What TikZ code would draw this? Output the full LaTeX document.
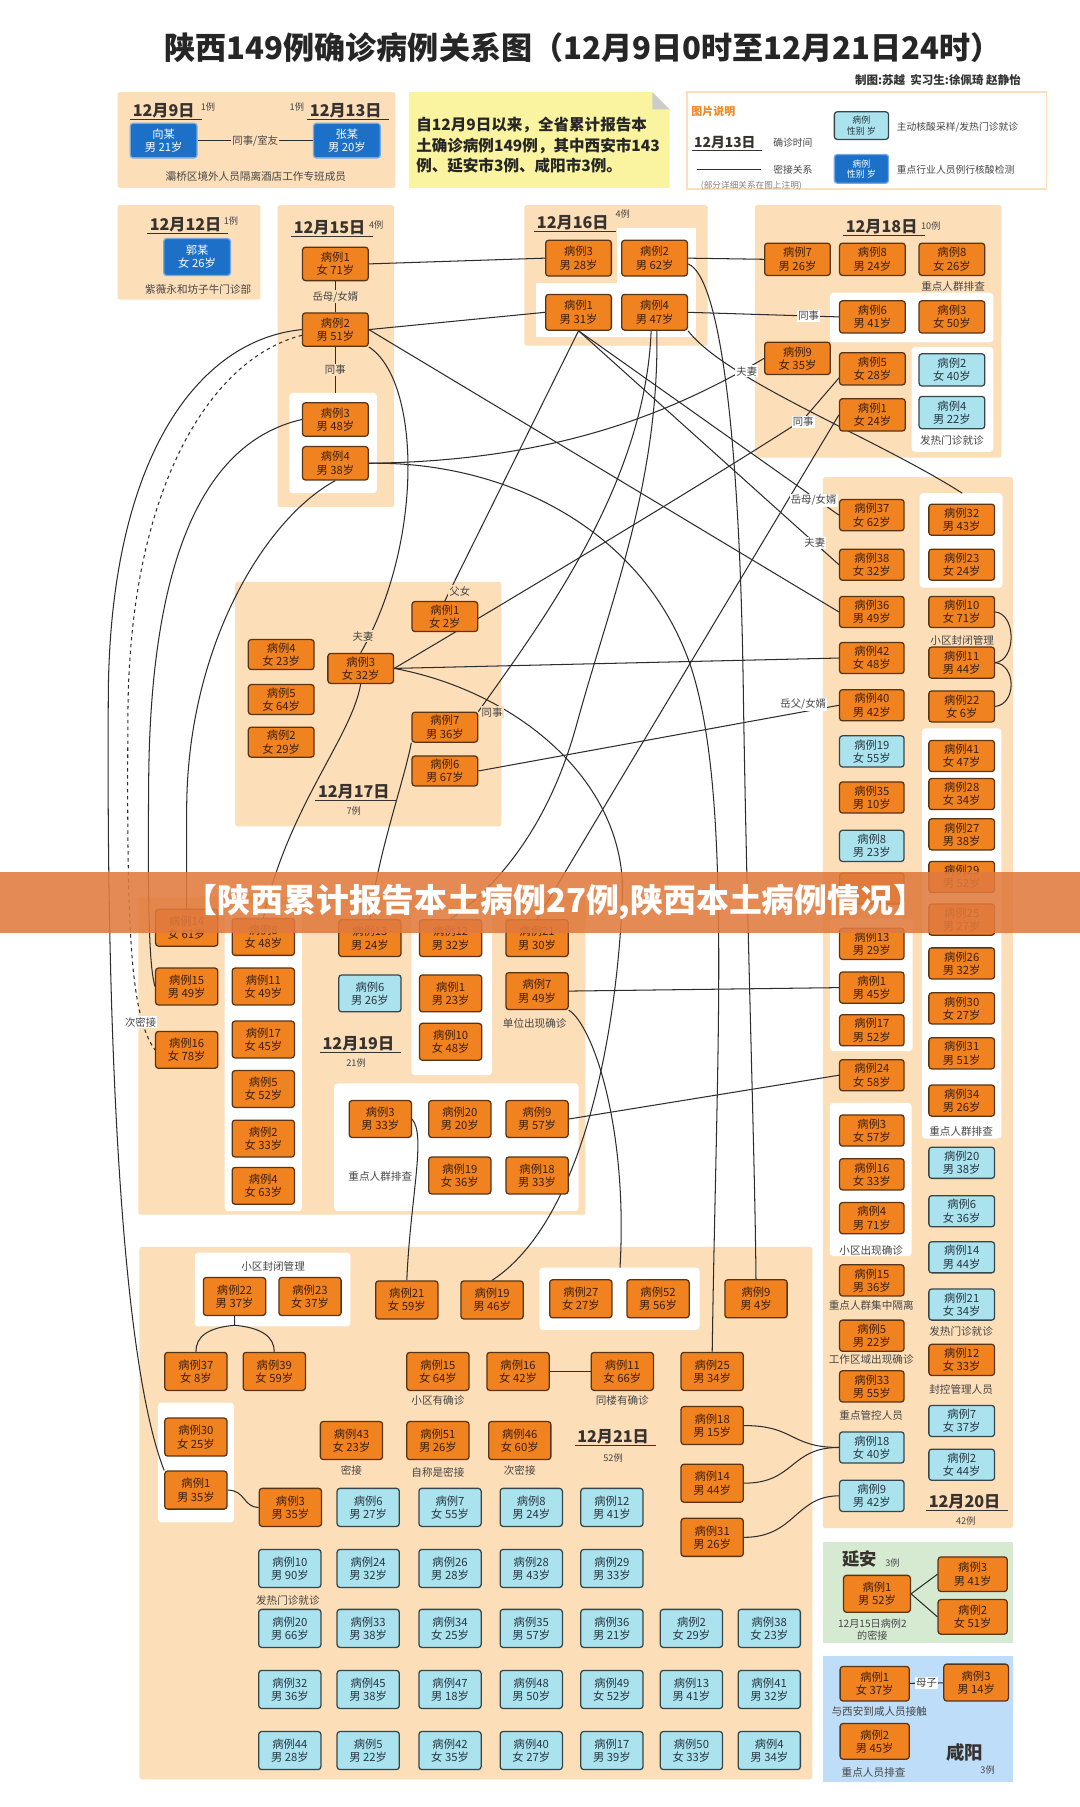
\documentclass[tikz,border=0pt]{standalone}
\usepackage{fontspec}
\setmainfont{Noto Sans CJK SC}
\usetikzlibrary{calc}
\pgfdeclarelayer{bg}\pgfdeclarelayer{lines}\pgfdeclarelayer{top}
\pgfsetlayers{bg,lines,main,top}
\definecolor{peach}{RGB}{252,222,184}
\definecolor{boxor}{RGB}{240,130,32}
\definecolor{boxbd}{RGB}{88,52,22}
\definecolor{boxtx}{RGB}{60,30,10}
\definecolor{ltblue}{RGB}{170,226,238}
\definecolor{ltbd}{RGB}{55,70,75}
\definecolor{ltx}{RGB}{40,55,65}
\definecolor{bbox}{RGB}{28,112,200}
\definecolor{bbd}{RGB}{120,170,225}
\definecolor{note}{RGB}{250,244,160}
\definecolor{grn}{RGB}{214,234,210}
\definecolor{xyb}{RGB}{190,221,248}
\definecolor{lnc}{RGB}{45,45,45}
\definecolor{lbc}{RGB}{70,70,70}
\definecolor{hdc}{RGB}{55,50,45}
\definecolor{legor}{RGB}{240,138,40}
\definecolor{bnr}{RGB}{224,122,62}
\tikzset{
 ob/.style={draw=boxbd, fill=boxor, rounded corners=2.5pt, line width=1.1pt, minimum width=56pt, minimum height=27pt, inner sep=0pt, align=center, font=\fontsize{9.8}{11.5}\selectfont, text=boxtx},
 lb/.style={fill=ltblue, draw=ltbd, text=ltx},
 bb/.style={fill=bbox, draw=bbd, text=white},
 ln/.style={draw=lnc, line width=0.9pt},
 lbl/.style={font=\fontsize{9}{9.5}\selectfont, text=lbc, inner sep=1pt},
 captx/.style={font=\fontsize{9.2}{10.5}\selectfont, text=lbc, inner sep=0pt},
 legtx/.style={font=\fontsize{8.5}{9}\selectfont, text=lbc, inner sep=0pt},
 hdg/.style={font=\fontsize{14}{14}\selectfont\bfseries, text=hdc, inner sep=1pt},
 cnt/.style={font=\fontsize{8}{8}\selectfont, text=lbc, inner sep=0pt},
}
\newcommand\casebox[5][]{\node[ob,#1] (#2) at (#3) {病例#4\\#5};}
\newcommand\hdgu[4]{\node[hdg] (#1) at (#2,#3) {#4};
  \draw[line width=1pt, draw=hdc] ([xshift=-1pt]#1.south west) -- ([xshift=5pt]#1.south east);}
\begin{document}
\begin{tikzpicture}[x=1pt,y=-1pt]
\useasboundingbox (0,0) rectangle (937,1568);
\begin{pgfonlayer}{bg}
\fill[white] (0,0) rectangle (937,1568);
\fill[peach,rounded corners=2pt] (102,80) rectangle (343,163);
\fill[note] (355,80) -- (566,80) -- (581,95) -- (581,163) -- (355,163) -- cycle;
\fill[gray!40] (566,80) -- (581,95) -- (566,95) -- cycle;
\filldraw[fill=white, draw=peach, line width=1.5pt] (596,80) rectangle (908,164);
\fill[peach,rounded corners=2pt] (102,178) rectangle (226,260);
\fill[peach,rounded corners=2pt] (241,178) rectangle (342,440);
\fill[white,rounded corners=3pt] (251,341) rectangle (327,428);
\fill[peach,rounded corners=2pt] (455,178) rectangle (614,300);
\fill[white] (535,198) rectangle (604,248);
\fill[white] (465,246) rectangle (604,292);
\fill[peach,rounded corners=2pt] (655,178) rectangle (869,397);
\fill[white,rounded corners=3pt] (720,254) rectangle (862,297);
\fill[white,rounded corners=3pt] (791,301) rectangle (862,392);
\fill[peach,rounded corners=2pt] (204,505) rectangle (435,717);
\fill[peach,rounded corners=2pt] (714,414) rectangle (879,1326);
\fill[white,rounded corners=3pt] (798,428) rectangle (870,510);
\fill[white,rounded corners=3pt] (800,632) rectangle (869,988);
\fill[white,rounded corners=3pt] (720,797) rectangle (792,912);
\fill[white,rounded corners=3pt] (720,957) rectangle (791,1090);
\fill[peach,rounded corners=2pt] (120,778) rectangle (508,1054);
\fill[white,rounded corners=3pt] (195,785) rectangle (262,1051);
\fill[white,rounded corners=3pt] (357,790) rectangle (427,933);
\fill[white,rounded corners=3pt] (290,940) rectangle (502,1051);
\fill[peach,rounded corners=2pt] (121,1082) rectangle (705,1544);
\fill[white,rounded corners=3pt] (169,1087) rectangle (304,1151);
\fill[white,rounded corners=3pt] (468,1100) rectangle (607,1154);
\fill[white,rounded corners=3pt] (137,1217) rectangle (203,1321);
\fill[grn] (714,1338) rectangle (879,1426);
\fill[xyb] (714,1437) rectangle (879,1546);
\end{pgfonlayer}

% title
\node[font=\fontsize{27}{30}\selectfont\bfseries, text=black!85] (title) at (506,41.5) {陕西149例确诊病例关系图（12月9日0时至12月21日24时）};
\node[font=\fontsize{10}{11}\selectfont\bfseries, text=black!80, anchor=east, inner sep=0pt] (sub) at (886,69.5) {制图:苏越\ \ 实习生:徐佩琦 赵静怡};

% top-left panel
\hdgu{h9}{142}{96}{12月9日}
\node[cnt,anchor=west] (n9) at (174,93) {1例};
\hdgu{h13}{300}{96}{12月13日}
\node[cnt,anchor=east] (n13) at (264,93) {1例};
\node[ob,bb,minimum width=58pt,minimum height=30pt] (XM) at (142,122) {向某\\男 21岁};
\node[ob,bb,minimum width=58pt,minimum height=30pt] (ZM) at (301,122) {张某\\男 20岁};
\node[captx] (capa) at (222,153) {灞桥区境外人员隔离酒店工作专班成员};

% note
\node[anchor=west, align=left, font=\fontsize{13.5}{17.5}\selectfont\bfseries, text=black!85, inner sep=0pt] (nt) at (361,126) {自12月9日以来，全省累计报告本\\土确诊病例149例，其中西安市143\\例、延安市3例、咸阳市3例。};

% legend
\node[font=\fontsize{9.5}{10}\selectfont\bfseries, text=legor] (lgt) at (619,97) {图片说明};
\node[font=\fontsize{12}{12}\selectfont\bfseries, text=hdc, inner sep=1pt] (lgh) at (629,124) {12月13日};
\draw[line width=1pt, draw=hdc] ([xshift=-1pt]lgh.south west) -- ([xshift=4pt]lgh.south east);
\node[legtx] (lg1) at (688,124) {确诊时间};
\node[legtx] (lg2) at (688,147) {密接关系};
\node[legtx,font=\fontsize{7.5}{8}\selectfont, text=gray] (lg3) at (652,161) {(部分详细关系在图上注明)};
\node[ob,lb,minimum width=47pt,minimum height=24pt,font=\fontsize{7.8}{9}\selectfont] (LB1) at (747.5,109) {病例\\性别 岁};
\node[ob,bb,minimum width=47pt,minimum height=25pt,font=\fontsize{7.8}{9}\selectfont] (LB2) at (747.5,146.5) {病例\\性别 岁};
\node[legtx,anchor=west] (lg4) at (778,110) {主动核酸采样/发热门诊就诊};
\node[legtx,anchor=west] (lg5) at (778,147) {重点行业人员例行核酸检测};

% 12.12
\hdgu{h12}{161}{195}{12月12日}
\node[cnt,anchor=west] (n12) at (194,192) {1例};
\node[ob,bb,minimum width=58pt,minimum height=32pt] (GM) at (171,223) {郭某\\女 26岁};
\node[captx] (capb) at (172,251) {紫薇永和坊子牛门诊部};

% 12.15
\hdgu{h15}{286}{198}{12月15日}
\node[cnt,anchor=west] (n15) at (320,195) {4例};
\begin{scope}[ob/.append style={minimum width=57pt,minimum height=29pt}]
\casebox{A1}{291,229}{1}{女 71岁}
\casebox{A2}{291,286}{2}{男 51岁}
\casebox{A3}{291,364}{3}{男 48岁}
\casebox{A4}{291,402}{4}{男 38岁}
\end{scope}

% 12.16
\hdgu{h16}{497}{193}{12月16日}
\node[cnt,anchor=west] (n16) at (534,186) {4例};
\begin{scope}[ob/.append style={minimum width=57pt,minimum height=31pt}]
\casebox{B3}{502,224}{3}{男 28岁}
\casebox{B2}{568,224}{2}{男 62岁}
\casebox{B1}{502,271}{1}{男 31岁}
\casebox{B4}{568,271}{4}{男 47岁}
\end{scope}

% 12.18
\hdgu{h18}{765}{197}{12月18日}
\node[cnt,anchor=west] (n18) at (799,196) {10例};
\begin{scope}[ob/.append style={minimum width=57pt,minimum height=28pt}]
\casebox{C7}{692,225}{7}{男 26岁}
\casebox{C8a}{757,225}{8}{男 24岁}
\casebox{C8b}{826,225}{8}{女 26岁}
\casebox{C6}{757,275}{6}{男 41岁}
\casebox{C3}{826,275}{3}{女 50岁}
\casebox{C9}{692,311}{9}{女 35岁}
\casebox{C5}{757,320}{5}{女 28岁}
\casebox{C1}{757,360}{1}{女 24岁}
\casebox[lb]{C2}{826,321}{2}{女 40岁}
\casebox[lb]{C4}{826,358}{4}{男 22岁}
\end{scope}
\node[captx] (capc) at (827,249) {重点人群排查};
\node[captx] (capd) at (826,382) {发热门诊就诊};

% 12.17
\begin{scope}[ob/.append style={minimum width=57pt,minimum height=26pt}]
\casebox{D1}{386,535}{1}{女 2岁}
\casebox{D4}{244,568}{4}{女 23岁}
\casebox{D3}{313,580}{3}{女 32岁}
\casebox{D5}{244,607}{5}{女 64岁}
\casebox{D2}{244,644}{2}{女 29岁}
\casebox{D7}{386,631}{7}{男 36岁}
\casebox{D6}{386,669}{6}{男 67岁}
\end{scope}
\hdgu{h17}{307}{687}{12月17日}
\node[cnt] (n17) at (307,704) {7例};

% 12.20
\begin{scope}[ob/.append style={minimum width=56pt,minimum height=27pt}]
\casebox{E37}{756.5,447}{37}{女 62岁}
\casebox{E38}{756.5,490}{38}{女 32岁}
\casebox{E36}{756.5,531}{36}{男 49岁}
\casebox{E42}{756.5,571}{42}{女 48岁}
\casebox{E40}{756.5,612}{40}{男 42岁}
\casebox[lb]{E19}{756.5,652}{19}{女 55岁}
\casebox{E35}{756.5,692}{35}{男 10岁}
\casebox[lb]{E8}{756.5,734}{8}{男 23岁}
\node[ob] (E39) at (756.5,771) {};
\casebox{E13}{756.5,819}{13}{男 29岁}
\casebox{E1}{756.5,857}{1}{男 45岁}
\casebox{E17}{756.5,894}{17}{男 52岁}
\casebox{E24}{756.5,933}{24}{女 58岁}
\casebox{E3}{756.5,981}{3}{女 57岁}
\casebox{E16}{756.5,1019}{16}{女 33岁}
\casebox{E4}{756.5,1057}{4}{男 71岁}
\casebox{E15}{756.5,1111}{15}{男 36岁}
\casebox{E5}{756.5,1159}{5}{男 22岁}
\casebox{E33}{756.5,1203}{33}{男 55岁}
\casebox[lb]{E18}{756.5,1256}{18}{女 40岁}
\casebox[lb]{E9}{756.5,1298}{9}{男 42岁}
\end{scope}
\begin{scope}[ob/.append style={minimum width=57pt,minimum height=27pt}]
\casebox{E32}{834.5,451}{32}{男 43岁}
\casebox{E23}{834.5,490}{23}{女 24岁}
\casebox{E10}{834.5,531}{10}{女 71岁}
\casebox{E11}{834.5,575}{11}{男 44岁}
\casebox{E22}{834.5,613}{22}{女 6岁}
\casebox{E41}{834.5,656}{41}{女 47岁}
\casebox{E28}{834.5,689}{28}{女 34岁}
\casebox{E27}{834.5,724}{27}{男 38岁}
\casebox{E29}{834.5,761}{29}{男 52岁}
\casebox{E25}{834.5,798}{25}{男 27岁}
\casebox{E26}{834.5,836}{26}{男 32岁}
\casebox{E30}{834.5,875}{30}{女 27岁}
\casebox{E31}{834.5,914}{31}{男 51岁}
\casebox{E34}{834.5,955}{34}{男 26岁}
\casebox[lb]{E20}{834.5,1009}{20}{男 38岁}
\casebox[lb]{E6}{834.5,1051}{6}{女 36岁}
\casebox[lb]{E14}{834.5,1091}{14}{男 44岁}
\casebox[lb]{E21}{834.5,1132}{21}{女 34岁}
\casebox{E12}{834.5,1180}{12}{女 33岁}
\casebox[lb]{E7}{834.5,1233}{7}{女 37岁}
\casebox[lb]{E2}{834.5,1271}{2}{女 44岁}
\end{scope}
\node[captx] (cape1) at (835,556) {小区封闭管理};
\node[captx] (cape2) at (834,982) {重点人群排查};
\node[captx] (cape3) at (756,1085) {小区出现确诊};
\node[captx] (cape4) at (756,1133) {重点人群集中隔离};
\node[captx] (cape5) at (756,1180) {工作区域出现确诊};
\node[captx] (cape6) at (756,1228) {重点管控人员};
\node[captx] (cape7) at (834,1155) {发热门诊就诊};
\node[captx] (cape8) at (834,1206) {封控管理人员};
\hdgu{h20}{837}{1303}{12月20日}
\node[cnt] (n20) at (838,1320) {42例};

% 12.19
\begin{scope}[ob/.append style={minimum width=54pt,minimum height=32pt}]
\casebox{F14}{162,805}{14}{女 61岁}
\casebox{F15}{162,856}{15}{男 49岁}
\casebox{F16}{162,911}{16}{女 78岁}
\casebox{F8}{228.5,813}{8}{女 48岁}
\casebox{F11}{228.5,856}{11}{女 49岁}
\casebox{F17}{228.5,902}{17}{女 45岁}
\casebox{F5}{228.5,945}{5}{女 52岁}
\casebox{F2}{228.5,988}{2}{女 33岁}
\casebox{F4}{228.5,1029}{4}{女 63岁}
\casebox{F13}{321,814}{13}{男 24岁}
\casebox[lb]{F6}{321,862}{6}{男 26岁}
\casebox{F12}{391,814}{12}{男 32岁}
\casebox{F1}{391,862}{1}{男 23岁}
\casebox{F10}{391,904}{10}{女 48岁}
\casebox{F21}{466,814}{21}{男 30岁}
\casebox{F7}{466,860}{7}{男 49岁}
\casebox{F3}{330,971}{3}{男 33岁}
\casebox{F20}{399,971}{20}{男 20岁}
\casebox{F9}{466,971}{9}{男 57岁}
\casebox{F19}{399,1020}{19}{女 36岁}
\casebox{F18}{466,1020}{18}{男 33岁}
\end{scope}
\hdgu{h19}{311}{906}{12月19日}
\node[cnt] (n19) at (309,922) {21例};
\node[captx] (capf1) at (464,888) {单位出现确诊};
\node[captx] (capf2) at (330,1021) {重点人群排查};

% 12.21
\begin{scope}[ob/.append style={minimum width=54pt,minimum height=33pt}]
\casebox{G22}{203.5,1125}{22}{男 37岁}
\casebox{G23}{269,1125}{23}{女 37岁}
\casebox{G21}{353,1128}{21}{女 59岁}
\casebox{G19}{427,1128}{19}{男 46岁}
\casebox{G27}{504,1127}{27}{女 27岁}
\casebox{G52}{571,1127}{52}{男 56岁}
\casebox{G9}{656,1127}{9}{男 4岁}
\casebox{G37}{170,1190}{37}{女 8岁}
\casebox{G39}{238,1190}{39}{女 59岁}
\casebox{G15}{380,1190}{15}{女 64岁}
\casebox{G16}{449.5,1190}{16}{女 42岁}
\casebox{G11}{540,1190}{11}{女 66岁}
\casebox{G25}{618,1190}{25}{男 34岁}
\casebox{G30}{170,1247}{30}{女 25岁}
\casebox{G1}{170,1293}{1}{男 35岁}
\casebox{G43}{305,1250}{43}{女 23岁}
\casebox{G51}{380,1250}{51}{男 26岁}
\casebox{G46}{451,1250}{46}{女 60岁}
\casebox{G18}{618,1237}{18}{男 15岁}
\casebox{G14}{618,1287}{14}{男 44岁}
\casebox{G31}{618,1334}{31}{男 26岁}
\casebox{G3}{252,1308}{3}{男 35岁}
\casebox[lb]{G6}{319.5,1308}{6}{男 27岁}
\casebox[lb]{G7}{390.5,1308}{7}{女 55岁}
\casebox[lb]{G8}{461,1308}{8}{男 24岁}
\casebox[lb]{G12}{531,1308}{12}{男 41岁}
\casebox[lb]{G10}{251.5,1361}{10}{男 90岁}
\casebox[lb]{G24}{319.5,1361}{24}{男 32岁}
\casebox[lb]{G26}{390.5,1361}{26}{男 28岁}
\casebox[lb]{G28}{461,1361}{28}{男 43岁}
\casebox[lb]{G29}{531,1361}{29}{男 33岁}
\casebox[lb]{G20}{251.5,1413}{20}{男 66岁}
\casebox[lb]{G33}{319.5,1413}{33}{男 38岁}
\casebox[lb]{G34}{390.5,1413}{34}{女 25岁}
\casebox[lb]{G35}{461,1413}{35}{男 57岁}
\casebox[lb]{G36}{531,1413}{36}{男 21岁}
\casebox[lb]{G2}{600,1413}{2}{女 29岁}
\casebox[lb]{G38}{667.5,1413}{38}{女 23岁}
\casebox[lb]{G32}{251.5,1466}{32}{男 36岁}
\casebox[lb]{G45}{319.5,1466}{45}{男 38岁}
\casebox[lb]{G47}{390.5,1466}{47}{男 18岁}
\casebox[lb]{G48}{461,1466}{48}{男 50岁}
\casebox[lb]{G49}{531,1466}{49}{女 52岁}
\casebox[lb]{G13}{600,1466}{13}{男 41岁}
\casebox[lb]{G41}{667.5,1466}{41}{男 32岁}
\casebox[lb]{G44}{251.5,1519}{44}{男 28岁}
\casebox[lb]{G5}{319.5,1519}{5}{男 22岁}
\casebox[lb]{G42}{390.5,1519}{42}{女 35岁}
\casebox[lb]{G40}{461,1519}{40}{女 27岁}
\casebox[lb]{G17}{531,1519}{17}{男 39岁}
\casebox[lb]{G50}{600,1519}{50}{女 33岁}
\casebox[lb]{G4}{667.5,1519}{4}{男 34岁}
\end{scope}
\node[captx] (capg1) at (237,1099) {小区封闭管理};
\node[captx] (capg2) at (380,1215) {小区有确诊};
\node[captx] (capg3) at (540,1215) {同楼有确诊};
\node[captx] (capg4) at (305,1276) {密接};
\node[captx] (capg5) at (380,1278) {自称是密接};
\node[captx] (capg6) at (451,1276) {次密接};
\node[captx,anchor=west] (capg7) at (222,1389) {发热门诊就诊};
\hdgu{h21}{532}{1247}{12月21日}
\node[cnt] (n21) at (532,1265) {52例};

% Yan'an
\node[font=\fontsize{15}{15}\selectfont\bfseries, text=hdc] (ya) at (746,1353) {延安};
\node[cnt,anchor=west] (nya) at (768,1356) {3例};
\node[ob,minimum width=58pt,minimum height=32pt] (H1) at (761,1383) {病例1\\男 52岁};
\node[ob,minimum width=60pt,minimum height=30pt] (H3) at (844,1366) {病例3\\男 41岁};
\node[ob,minimum width=60pt,minimum height=30pt] (H2) at (844,1403) {病例2\\女 51岁};
\node[captx,align=center,font=\fontsize{8.8}{11}\selectfont] (caph) at (757,1414) {12月15日病例2\\的密接};

% Xianyang
\node[ob,minimum width=60pt,minimum height=30pt] (I1) at (759,1461) {病例1\\女 37岁};
\node[ob,minimum width=56pt,minimum height=32pt] (I3) at (847,1460) {病例3\\男 14岁};
\node[ob,minimum width=60pt,minimum height=31pt] (I2) at (759,1511) {病例2\\男 45岁};
\node[captx] (capi1) at (763,1485) {与西安到咸人员接触};
\node[captx] (capi2) at (758,1538) {重点人员排查};
\node[font=\fontsize{16}{16}\selectfont\bfseries, text=hdc] (xy) at (837,1521) {咸阳};
\node[cnt] (nxy) at (857,1536) {3例};

% connectors
\begin{pgfonlayer}{lines}
\draw[ln] (XM) -- node[lbl,fill=peach] (lx) {同事/室友} (ZM);
\draw[ln] (A1) -- node[lbl,fill=peach] (la) {岳母/女婿} (A2);
\coordinate (a3top) at (291,341);
\draw[ln] (A2) -- node[lbl,fill=peach] (lb2) {同事} (a3top);
\draw[ln] (A1.east) -- (B3.west);
\draw[ln] (A2.east) -- (B1.west);
\draw[ln] (A2.east) -- (E36.west);
\draw[ln] (A2.south east) .. controls (365,330) and (368,470) .. (D3.north);
\draw[ln] (A2.west) .. controls (170,295) and (96,400) .. (94,600) .. controls (92,900) and (105,1180) .. (G1.north west);
\draw[ln,dashed] ([yshift=-5pt]A2.west) .. controls (185,310) and (112,420) .. (111,620) .. controls (110,800) and (112,880) .. (F16.west);
\draw[ln] (A3.west) .. controls (170,385) and (130,500) .. (129,680) .. controls (128,800) and (130,840) .. (F15.west);
\draw[ln] (A4.south) .. controls (230,450) and (163,560) .. (162,700) -- (F14.north);
\draw[ln] (A4.east) .. controls (480,400) and (580,360) .. (C9.west);
\draw[ln] (A4.east) .. controls (440,400) and (560,460) .. (600,580) .. controls (635,690) and (622,900) .. (G25.north);
\draw[ln] (B2.east) -- (C7.west);
\draw[ln] ([yshift=-5pt]B2.east) .. controls (625,240) and (642,380) .. (645,600) .. controls (648,800) and (655,1000) .. (G9.north);
\draw[ln] (B4.east) -- node[lbl,fill=white,pos=0.8] (lc6) {同事} (C6.west);
\coordinate (e32top) at (835,428);
\draw[ln] (B4.south east) .. controls (630,330) and (760,380) .. (e32top);
\draw[ln] (B1.south) -- (D1.north);
\draw[ln] (B1.south) -- (E37.west);
\draw[ln] (B1.south) -- (E38.west);
\draw[ln] ([xshift=2pt]B4.south) .. controls (572,420) and (530,520) .. (500,630) .. controls (475,720) and (430,770) .. (F12.north);
\draw[ln] ([xshift=-3pt]B4.south) .. controls (560,420) and (470,540) .. (D7.north east);
\draw[ln] (C1.west) -- (F21.north);
\coordinate (g27top) at (538,1100);
\draw[ln] (F7.south east) .. controls (515,890) and (545,980) .. (g27top);
\coordinate (c5l) at (697,364);
\draw[ln] (D3.east) .. controls (460,510) and (610,420) .. (c5l) -- ([yshift=-8pt]C5.west);
\draw[ln] (D3.east) -- (E42.west);
\draw[ln] (D6.east) -- (E40.west);
\draw[ln] (D3.south) .. controls (305,640) and (250,700) .. (F8.north);
\draw[ln] (D7.south west) .. controls (350,680) and (328,740) .. (F13.north);
\draw[ln] (D3.east) .. controls (450,600) and (545,680) .. (540,780) .. controls (535,900) and (505,1060) .. (G19.north);
\draw[ln] (F7.east) -- (E1.west);
\draw[ln] (F9.east) -- (E24.west);
\draw[ln] (F3.east) .. controls (370,985) and (356,1040) .. (G21.north);
\coordinate (fork) at (203.5,1150);
\draw[ln] (G22.south) -- (fork) .. controls (180,1152) and (170,1160) .. (G37.north);
\draw[ln] (fork) .. controls (227,1152) and (238,1160) .. (G39.north);
\draw[ln] (G16.east) -- (G11.west);
\draw[ln] (G1.east) .. controls (213,1293) and (211,1308) .. (G3.west);
\draw[ln] (G18.east) .. controls (690,1237) and (685,1256) .. (E18.west);
\draw[ln] (G14.east) .. controls (690,1287) and (685,1256) .. (E18.west);
\draw[ln] (G31.east) .. controls (690,1334) and (690,1298) .. (E9.west);
\draw[ln] (E10.east) .. controls (882,533) and (882,573) .. (E11.east);
\draw[ln] (E11.east) .. controls (882,577) and (882,611) .. (E22.east);
\draw[ln] (H1.east) -- (H3.west);
\draw[ln] (H1.east) -- (H2.west);
\draw[ln] (I1) -- node[lbl,fill=white] (lmz) {母子} (I3);
\draw[ln, line width=1.2pt] (605,147) -- (660,147);
\node[lbl,fill=peach] (l1) at (315,552) {夫妻};
\node[lbl,fill=white] (l2) at (648,322) {夫妻};
\node[lbl,fill=peach] (l3) at (399,513) {父女};
\node[lbl,fill=white] (l4) at (706,434) {岳母/女婿};
\node[lbl,fill=white] (l5) at (707,471) {夫妻};
\node[lbl,fill=peach] (l6) at (427,618) {同事};
\node[lbl,fill=white] (l7) at (697,611) {岳父/女婿};
\node[lbl,fill=white] (l8) at (122,887) {次密接};
\node[lbl,fill=white] (l9) at (697,366) {同事};
\end{pgfonlayer}

\begin{pgfonlayer}{top}
\fill[bnr, fill opacity=0.88] (0,756.5) rectangle (937,809.5);
\node[font=\fontsize{28.5}{30}\selectfont\bfseries, text=white] (bn) at (482,783) {【陕西累计报告本土病例27例,陕西本土病例情况】};
\end{pgfonlayer}
\end{tikzpicture}
\end{document}
